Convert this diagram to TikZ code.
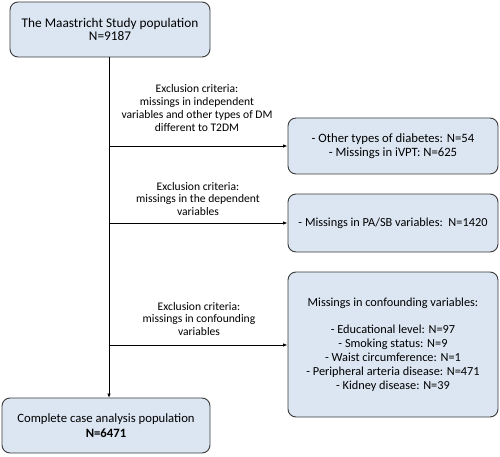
\documentclass[tikz,border=0pt]{standalone}
\usepackage{fontspec}
\setmainfont{Carlito}
\usetikzlibrary{arrows.meta}
\definecolor{boxfill}{HTML}{DCE6F2}
\definecolor{boxline}{HTML}{3A3A3A}
\tikzset{
  flowbox/.style={draw=boxline, fill=boxfill, line width=0.9pt, rounded corners=8pt, align=center, inner sep=2pt, font=\fontsize{12.3}{14}\selectfont},
  critlabel/.style={align=center, font=\fontsize{11.6}{12.8}\selectfont},
  conn/.style={draw=black, line width=0.9pt},
  arr/.style={conn, -{Latex[length=4.5pt,width=3.5pt]}}
}
\begin{document}
\begin{tikzpicture}[x=1pt,y=-1pt]
\useasboundingbox (0,0) rectangle (500,457);
\node[flowbox, minimum width=200pt, minimum height=55pt, font=\fontsize{13.3}{13.5}\selectfont] (top) at (110,29.5) {The Maastricht Study population\\N=9187};
\node[flowbox, minimum width=208pt, minimum height=55pt, font=\fontsize{12.7}{15}\selectfont] (bot) at (106,425.5) {Complete case analysis population\\\textbf{N=6471}};
\node[flowbox, minimum width=210pt, minimum height=56pt, font=\fontsize{12.7}{14}\selectfont] (b1) at (393,146) {- Other types of diabetes: N=54\\- Missings in iVPT: N=625};
\node[flowbox, minimum width=210pt, minimum height=58pt] (b2) at (393,223) {- Missings in PA/SB variables:\ \ N=1420};
\node[flowbox, minimum width=210pt, minimum height=145pt] (b3) at (393,344.5) {Missings in confounding variables:\\[13pt]- Educational level: N=97\\- Smoking status: N=9\\- Waist circumference: N=1\\- Peripheral arteria disease: N=471\\- Kidney disease: N=39};
\node[critlabel] (l1) at (197,108) {Exclusion criteria:\\missings in independent\\variables and other types of DM\\different to T2DM};
\node[critlabel] (l2) at (198,199) {Exclusion criteria:\\missings in the dependent\\variables};
\node[critlabel] (l3) at (199,319) {Exclusion criteria:\\missings in confounding\\variables};
\coordinate (j1) at (109,146);
\coordinate (j2) at (109,223);
\coordinate (j3) at (109,345);
\coordinate (ts) at (109,57);
\coordinate (be) at (109,398);
\draw[arr] (ts) -- (be);
\draw[arr] (j1) -- (b1.west);
\draw[arr] (j2) -- (b2.west);
\draw[arr] (j3) -- (j3 -| b3.west);
\end{tikzpicture}
\end{document}
